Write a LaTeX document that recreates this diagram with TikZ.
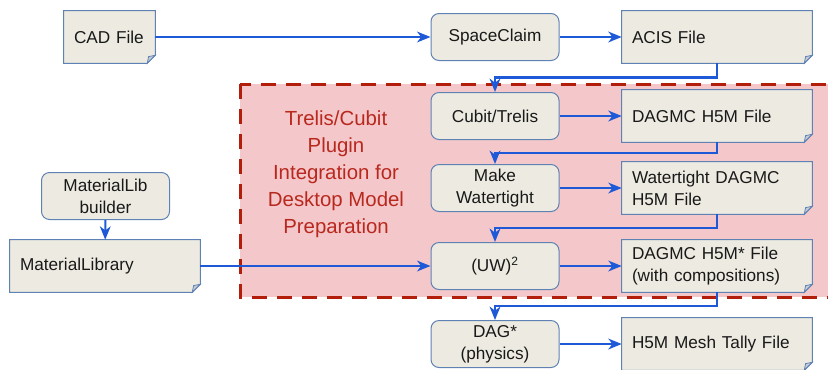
\documentclass[tikz,border=0pt]{standalone}
\usepackage{fontspec}
\setmainfont{Liberation Sans}
\usepackage{xcolor}
\usepackage{tikz}
\usetikzlibrary{arrows.meta,backgrounds,calc}

\definecolor{notefill}{RGB}{237,235,225}
\definecolor{noteline}{RGB}{95,130,180}
\definecolor{foldfill}{RGB}{196,202,214}
\definecolor{flowblue}{RGB}{30,90,215}
\definecolor{pluginfill}{RGB}{244,200,202}
\definecolor{plugindash}{RGB}{178,30,10}
\definecolor{plugintext}{RGB}{185,40,30}
\definecolor{textdark}{RGB}{25,25,25}

\newcommand{\nodefont}{\fontsize{12.9}{16.5}\selectfont}

\tikzset{
  procbox/.style={draw=noteline, fill=notefill, line width=0.75pt, rounded corners=6pt,
    minimum width=96pt, minimum height=35.25pt, inner sep=2pt, align=center,
    text=textdark, font=\nodefont},
  notebox/.style={text width=127.5pt, minimum height=39pt, inner xsep=7.5pt, inner ysep=0pt,
    align=left, text=textdark, font=\nodefont},
  flow/.style={draw=flowblue, line width=1.9pt, -{Stealth[length=10pt,width=8pt,inset=3pt]}},
}

\begin{document}
\begin{tikzpicture}[x=0.75pt,y=0.75pt,yscale=-1,xscale=1]
\useasboundingbox (0,0) rectangle (828,369);

% Text Node
\node (cad) at (109.5,37) [notebox, text width=53.25pt] {CAD File};
% Text Node
\node (spaceclaim) at (495,37) [procbox] {SpaceClaim};
% Text Node
\node (acis) at (717,37) [notebox] {ACIS File};
% Text Node
\node (cubit) at (495,116) [procbox] {Cubit/Trelis};
% Text Node
\node (dagmc) at (717,116) [notebox] {DAGMC H5M File};
% Text Node
\node (watertight) at (495,188) [procbox] {Make\\Watertight};
% Text Node
\node (wtfile) at (717,188) [notebox] {Watertight DAGMC\\H5M File};
% Text Node
\node (uw) at (495,266) [procbox] {(UW)\textsuperscript{2}};
% Text Node
\node (dagmcstar) at (717,266) [notebox] {DAGMC H5M* File\\(with compositions)};
% Text Node
\node (dagphys) at (495,344) [procbox] {DAG*\\(physics)};
% Text Node
\node (tally) at (717,344) [notebox] {H5M Mesh Tally File};
% Text Node
\node (matbuilder) at (105.5,196) [procbox] {MaterialLib\\builder};
% Text Node
\node (matlib) at (105,266) [notebox] {MaterialLibrary};
% Text Node
\node (plugintitle) at (336,174) [align=center, text=plugintext, font=\fontsize{15.3}{20.25}\selectfont]
  {Trelis/Cubit\\Plugin\\Integration for\\Desktop Model\\Preparation};

\begin{scope}[on background layer]
%Shape: Rectangle (plugin region)
\draw [fill=pluginfill, draw=plugindash, line width=2.25pt, dash pattern=on 11.25pt off 7.5pt] (240,84) rectangle (845,297);
%Shape: Note (folded corner)
\foreach \n in {cad,acis,dagmc,wtfile,dagmcstar,tally,matlib} {
  \filldraw [fill=notefill, draw=noteline, line width=0.75pt] (\n.north west) -- (\n.north east) -- ([yshift=-6pt]\n.south east) -- ([xshift=-6pt]\n.south east) -- (\n.south west) -- cycle;
  \filldraw [fill=foldfill, draw=noteline, line width=0.6pt] ([yshift=-6pt]\n.south east) -- ([xshift=-6pt]\n.south east) -- ([xshift=-5pt,yshift=-5pt]\n.south east) -- cycle;
}
\end{scope}

% Connectors
\draw [flow] (cad) -- (spaceclaim);
\draw [flow] (spaceclaim) -- (acis);
\draw [flow] (cubit) -- (dagmc);
\draw [flow] (watertight) -- (wtfile);
\draw [flow] (uw) -- (dagmcstar);
\draw [flow] (dagphys) -- (tally);
\draw [flow] (matlib) -- (uw);
\draw [flow, line width=1.5pt] (matbuilder) -- (matlib);
\foreach \a/\b in {acis/cubit,dagmc/watertight,wtfile/uw,dagmcstar/dagphys}
  \draw [flow] (\a.south) |- ($(\a.south)!0.5!(\b.north)$) -| (\b.north);
\end{tikzpicture}
\end{document}
